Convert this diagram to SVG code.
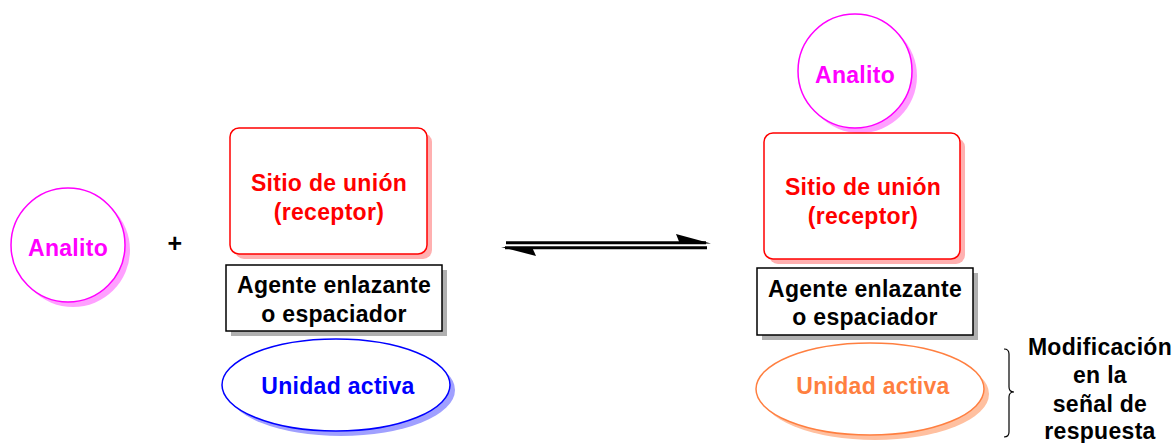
<svg xmlns="http://www.w3.org/2000/svg" width="1175" height="443" viewBox="0 0 1175 443">
<style>
text{font-family:"Liberation Sans",Arial,sans-serif;font-weight:bold;font-size:23px;text-anchor:middle;letter-spacing:0.3px}
.mag{fill:#ff00ff}.red{fill:#ff0000}.blk{fill:#000}.blu{fill:#0000ff}.org{fill:#ff7f40}
</style>
<rect width="1175" height="443" fill="#fff"/>
<g id="analito-left">
<circle cx="73" cy="250" r="57" fill="#ffa0ff"/>
<circle cx="68" cy="245" r="57" fill="#fff" stroke="#ff00ff" stroke-width="1.5"/>
<text x="68" y="256" class="mag">Analito</text>
</g>
<g id="plus"><text x="175" y="252" class="blk" style="font-size:25px">+</text></g>
<g id="sitio-left">
<rect x="235" y="133" width="197" height="126" rx="9" fill="#ffb0b0"/>
<rect x="230" y="128" width="197" height="126" rx="9" fill="#fff" stroke="#ff0000" stroke-width="1.5"/>
<text x="329" y="191" class="red">Sitio de unión</text>
<text x="329" y="220" class="red">(receptor)</text>
</g>
<g id="agente-left">
<rect x="231" y="270" width="216" height="66" fill="#b0b0b0"/>
<rect x="226" y="265" width="216" height="66" fill="#fff" stroke="#000" stroke-width="1.5"/>
<text x="334" y="293" class="blk">Agente enlazante</text>
<text x="334" y="322" class="blk">o espaciador</text>
</g>
<g id="unidad-left">
<ellipse cx="341" cy="390" rx="114" ry="46" fill="#a0a0ff"/>
<ellipse cx="336" cy="385" rx="114" ry="46" fill="#fff" stroke="#0000ff" stroke-width="1.5"/>
<text x="338" y="394" class="blu">Unidad activa</text>
</g>
<g id="connectors">
<line x1="506" y1="242.7" x2="706" y2="242.7" stroke="#000" stroke-width="3"/>
<polygon points="676,234 711,243.5 680,244" fill="#000"/>
<line x1="505" y1="247.7" x2="707" y2="247.7" stroke="#000" stroke-width="3"/>
<polygon points="501,247 536,256 532,247" fill="#000"/>
</g>
<g id="analito-right">
<circle cx="860" cy="76" r="57" fill="#ffa0ff"/>
<circle cx="855" cy="71" r="57" fill="#fff" stroke="#ff00ff" stroke-width="1.5"/>
<text x="855" y="83" class="mag">Analito</text>
</g>
<g id="sitio-right">
<rect x="769" y="138" width="196" height="126" rx="9" fill="#ffb0b0"/>
<rect x="764" y="133" width="196" height="126" rx="9" fill="#fff" stroke="#ff0000" stroke-width="1.5"/>
<text x="863" y="195" class="red">Sitio de unión</text>
<text x="863" y="224" class="red">(receptor)</text>
</g>
<g id="agente-right">
<rect x="762" y="273" width="216" height="67" fill="#b0b0b0"/>
<rect x="757" y="268" width="216" height="67" fill="#fff" stroke="#000" stroke-width="1.5"/>
<text x="865" y="297" class="blk">Agente enlazante</text>
<text x="865" y="325" class="blk">o espaciador</text>
</g>
<g id="unidad-right">
<ellipse cx="875" cy="394" rx="114" ry="46" fill="#ffc0a0"/>
<ellipse cx="870" cy="389" rx="114" ry="46" fill="#fff" stroke="#ff7f40" stroke-width="1.5"/>
<text x="873" y="394" class="org">Unidad activa</text>
</g>
<g id="brace">
<path d="M1004,349 Q1009,349 1009,354 L1009,387 Q1009,392 1014,392 Q1009,392 1009,397 L1009,432 Q1009,437 1004,437" fill="none" stroke="#000" stroke-width="1.2"/>
</g>
<g id="modificacion">
<text x="1100" y="355" class="blk">Modificación</text>
<text x="1100" y="383" class="blk">en la</text>
<text x="1100" y="412" class="blk">señal de</text>
<text x="1100" y="439" class="blk">respuesta</text>
</g>
</svg>
